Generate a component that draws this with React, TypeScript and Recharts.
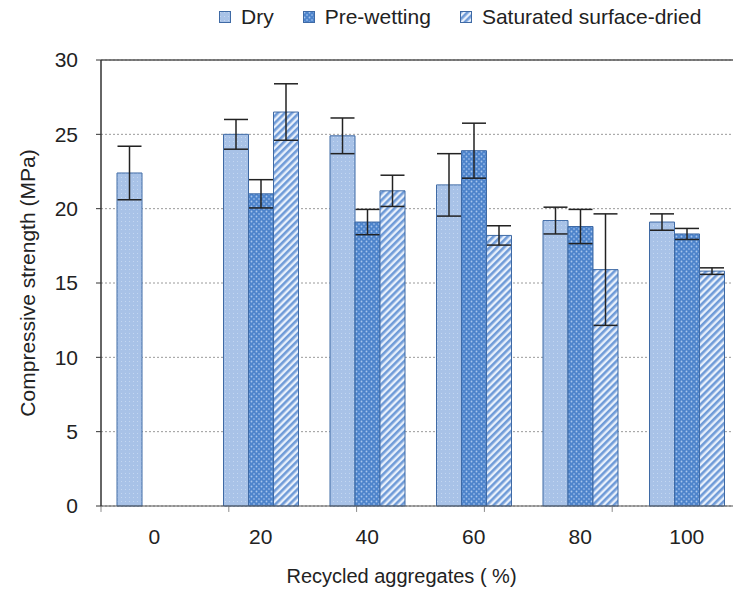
import React from 'react';
import { BarChart, Bar, XAxis, YAxis, CartesianGrid, ErrorBar, ReferenceLine, Label } from 'recharts';

const categories = ['0', '20', '40', '60', '80', '100'];
const dry = [22.4, 25.0, 24.9, 21.6, 19.2, 19.1];
const dryErr = [1.8, 1.0, 1.2, 2.1, 0.9, 0.55];
const preWetting = [null, 21.0, 19.1, 23.9, 18.8, 18.3];
const preWettingErr = [null, 0.95, 0.85, 1.85, 1.15, 0.37];
const ssd = [null, 26.5, 21.2, 18.2, 15.9, 15.8];
const ssdErr = [null, 1.9, 1.05, 0.65, 3.75, 0.22];
const yTicks = [0, 5, 10, 15, 20, 25, 30];
const edgeTicks = [0, 1, 2, 3, 4, 5, 6];

const series = [
  { key: 'dry', err: 'dryErr', name: 'Dry', fill: 'url(#pat-dry)' },
  { key: 'pre', err: 'preErr', name: 'Pre-wetting', fill: 'url(#pat-pre)' },
  { key: 'ssd', err: 'ssdErr', name: 'Saturated surface-dried', fill: 'url(#pat-ssd)' },
];

const data = categories.map((c, i) => ({
  cat: c,
  dry: dry[i],
  dryErr: dryErr[i],
  pre: preWetting[i],
  preErr: preWettingErr[i],
  ssd: ssd[i],
  ssdErr: ssdErr[i],
}));

const FONT = '"Liberation Sans", Arial, sans-serif';
const BORDER = '#3f6aa5';

const Patterns = () => (
  <defs>
    <pattern id="pat-dry" width="4" height="4" patternUnits="userSpaceOnUse">
      <rect width="4" height="4" fill="#a8c2e7" />
      <rect x="1" y="1" width="1" height="1" fill="#c4d7f1" />
    </pattern>
    <pattern id="pat-pre" width="5" height="5" patternUnits="userSpaceOnUse">
      <rect width="5" height="5" fill="#4e84cb" />
      <circle cx="1.5" cy="1.5" r="0.9" fill="#a8c6ee" />
      <circle cx="4" cy="4" r="0.9" fill="#8fb4e6" />
    </pattern>
    <pattern id="pat-ssd" width="5" height="5" patternUnits="userSpaceOnUse" patternTransform="rotate(45)">
      <rect width="5" height="5" fill="#e8f0fb" />
      <rect width="2.6" height="5" fill="#6f9bd8" />
    </pattern>
  </defs>
);

const LegendBox = () => (
  <div style={{ position: 'absolute', top: 5, left: 219, display: 'flex', alignItems: 'center', whiteSpace: 'nowrap', fontFamily: FONT, fontSize: 21, color: '#222' }}>
    {series.map((s) => (
      <div key={s.key} style={{ display: 'flex', alignItems: 'center', marginRight: 29, flexShrink: 0 }}>
        <svg width={12} height={12} style={{ marginRight: 10 }}>
          <rect x={0.5} y={0.5} width={11} height={11} fill={s.fill} stroke={BORDER} />
        </svg>
        <span>{s.name}</span>
      </div>
    ))}
  </div>
);

export default function App() {
  return (
    <div style={{ position: 'absolute', left: 0, top: 0, width: 733, height: 589, overflow: 'hidden', background: '#fff' }}>
      <BarChart
        width={745}
        height={589}
        data={data}
        margin={{ top: 60, right: 5, left: 0, bottom: 0 }}
        barCategoryGap={16}
        barGap={0}
      >
        <Patterns />
        <CartesianGrid vertical={false} stroke="#9a9a9a" strokeDasharray="2 2" />
        <XAxis xAxisId="edge" type="number" domain={[0, 6]} ticks={edgeTicks} hide allowDataOverflow />
        <XAxis
          dataKey="cat"
          height={83}
          tickLine={false}
          axisLine={{ stroke: '#555' }}
          tickMargin={17}
          tick={{ fontSize: 21, fill: '#222', fontFamily: FONT }}
        >
          <Label value="Recycled aggregates ( %)" position="insideBottom" offset={6} dx={-19} style={{ fontSize: 20, fill: '#222', fontFamily: FONT }} />
        </XAxis>
        <YAxis
          width={101}
          domain={[0, 30]}
          ticks={yTicks}
          interval={0}
          tickSize={5}
          tickMargin={18}
          axisLine={{ stroke: '#333', strokeWidth: 1.5 }}
          tickLine={{ stroke: '#333' }}
          tick={{ fontSize: 21, fill: '#222', fontFamily: FONT }}
        >
          <Label value="Compressive strength (MPa)" angle={-90} position="insideLeft" offset={28} style={{ fontSize: 21, fill: '#222', fontFamily: FONT, textAnchor: 'middle' }} />
        </YAxis>
        <ReferenceLine y={30} stroke="#555" strokeWidth={1.5} />
        {edgeTicks.map((t) => (
          <ReferenceLine
            key={t}
            xAxisId="edge"
            segment={[{ x: t, y: 0 }, { x: t, y: -0.4 }]}
            stroke="#8a8a8a"
            ifOverflow="visible"
          />
        ))}
        {series.map((s) => (
          <Bar key={s.key} dataKey={s.key} name={s.name} fill={s.fill} stroke={BORDER} strokeWidth={1} isAnimationActive={false}>
            <ErrorBar dataKey={s.err} width={12} stroke="#222" strokeWidth={1.5} direction="y" />
          </Bar>
        ))}
      </BarChart>
      <LegendBox />
    </div>
  );
}
